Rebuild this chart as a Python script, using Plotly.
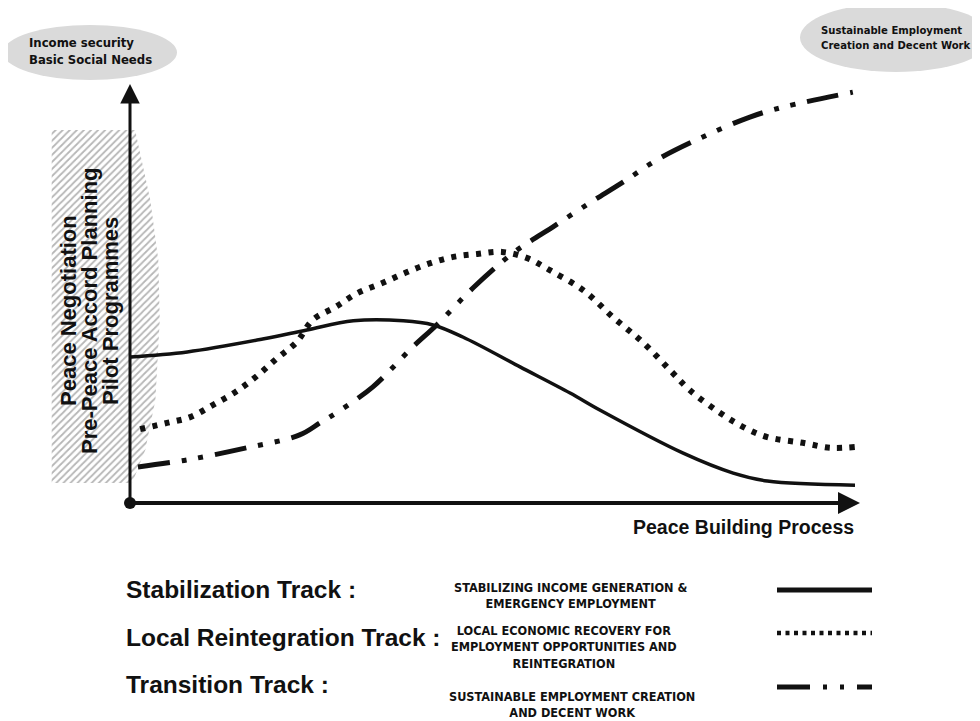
import plotly.graph_objects as go

# the page body keeps its default 8px margin, so the figure is sized to fill the rest
OFF = 8
W, H = 980 - OFF, 721 - OFF

# progress along the peace building process (0-100) vs. relative intensity (0-100)
stab_x = [0, 7.9, 18.3, 24.4, 30.8, 37.7, 41.8, 45.9, 53.8, 60.7, 64.8, 76.3, 83.2, 87.9, 100]
stab_y = [35.2, 36.4, 39.5, 41.7, 43.9, 43.9, 42.9, 40.0, 32.8, 26.5, 22.4, 12.0, 7.2, 5.3, 4.3]

local_x = [1.4, 5.1, 8.3, 11.4, 14.5, 17.5, 20.3, 23.0, 25.2, 28.3, 31.4, 34.8, 37.9, 41.1,
           44.6, 47.9, 51.3, 54.8, 57.9, 62.5, 66.6, 70.8, 74.5, 77.2, 81.4, 84.6, 87.9,
           92.8, 96.6, 100]
local_y = [17.8, 19.3, 20.7, 23.6, 26.7, 30.6, 34.9, 38.8, 44.1, 47.2, 50.6, 53.0, 55.4, 57.6,
           59.3, 60.0, 60.5, 59.0, 56.1, 51.3, 44.8, 38.6, 32.0, 27.2, 21.7, 18.3, 15.9,
           14.5, 13.3, 13.5]

trans_x = [1.1, 7.9, 16.1, 23.4, 26.2, 28.6, 33.5, 39.0, 42.3, 47.3, 52.8, 56.3, 58.3, 63.4,
           68.0, 72.7, 79.0, 85.5, 90.1, 99.7]
trans_y = [8.7, 10.4, 13.3, 16.4, 19.3, 21.9, 28.0, 37.6, 42.9, 51.8, 60.2, 64.3, 66.5, 72.3,
           77.3, 82.7, 88.2, 93.0, 95.4, 99.0]

track_names = ["Stabilization Track :", "Local Reintegration Track :", "Transition Track :"]
track_desc = [
    "STABILIZING INCOME GENERATION &<br>EMERGENCY EMPLOYMENT",
    "LOCAL ECONOMIC RECOVERY FOR<br>EMPLOYMENT OPPORTUNITIES AND<br>REINTEGRATION",
    "SUSTAINABLE EMPLOYMENT CREATION<br>AND DECENT WORK",
]
corner_left = "Income security<br>Basic Social Needs"
corner_right = "Sustainable Employment<br>Creation and Decent Work"
side_lines = ["Peace Negotiation", "Pre-Peace Accord Planning", "Pilot Programmes"]
x_label = "Peace Building Process"

ARIAL = "Liberation Sans, Arial, sans-serif"
NARROW = "Liberation Sans Narrow, Arial Narrow, DejaVu Sans Condensed, sans-serif"
INK = "#111111"
DASHDOT = "32px,12px,5px,12px,5px,12px"
DOTS = "5px,7.5px"


def px(x):
    return (x - OFF) / W


def py(y):
    return 1 - (y - OFF) / H


fig = go.Figure()

# hatched "pre-accord" band along the vertical axis
fig.add_trace(go.Scatter(
    x=[-10.8, 0.7, 2.8, 3.9, 4.1, 3.5, 2.1, 0.3, -10.8],
    y=[89.9, 89.9, 73.0, 58.6, 44.1, 24.8, 12.8, 4.8, 4.8],
    fill="toself", mode="lines", line=dict(width=0),
    fillpattern=dict(shape="/", fgcolor="#6e6e6e", bgcolor="white", size=5, solidity=0.35),
    hoverinfo="skip", showlegend=False,
))

fig.add_trace(go.Scatter(x=stab_x, y=stab_y, mode="lines",
                         line=dict(color=INK, width=3.5, shape="spline"),
                         name=track_names[0], showlegend=False))
fig.add_trace(go.Scatter(x=local_x, y=local_y, mode="lines",
                         line=dict(color=INK, width=6, shape="spline", dash=DOTS),
                         name=track_names[1], showlegend=False))
fig.add_trace(go.Scatter(x=trans_x, y=trans_y, mode="lines",
                         line=dict(color=INK, width=5, shape="spline", dash=DASHDOT),
                         name=track_names[2], showlegend=False))

shapes = [
    # grey bubbles in the corners
    dict(type="circle", xref="paper", yref="paper", x0=px(3), x1=px(177), y0=py(80), y1=py(25),
         fillcolor="#dadada", line=dict(width=0), layer="below"),
    dict(type="circle", xref="paper", yref="paper", x0=px(800), x1=px(992), y0=py(72), y1=py(3),
         fillcolor="#dadada", line=dict(width=0), layer="below"),
    # origin dot
    dict(type="circle", xref="paper", yref="paper", x0=px(124), x1=px(136), y0=py(509), y1=py(497),
         fillcolor=INK, line=dict(width=0)),
    # legend keys
    dict(type="line", xref="paper", yref="paper", x0=px(777), x1=px(872), y0=py(590), y1=py(590),
         line=dict(color=INK, width=5)),
    dict(type="line", xref="paper", yref="paper", x0=px(777), x1=px(872), y0=py(633), y1=py(633),
         line=dict(color=INK, width=4.5, dash="4px,4.5px")),
    dict(type="line", xref="paper", yref="paper", x0=px(777), x1=px(872), y0=py(687), y1=py(687),
         line=dict(color=INK, width=5, dash="33px,13px,4px,13px,4px,13px")),
]

annotations = [
    # axes drawn as arrows
    dict(x=px(130), y=py(84), xref="paper", yref="paper", text="", showarrow=True,
         ax=0, ay=419, arrowhead=2, arrowsize=1.3, arrowwidth=3, arrowcolor=INK, standoff=0),
    dict(x=px(860), y=py(503), xref="paper", yref="paper", text="", showarrow=True,
         ax=-730, ay=0, arrowhead=2, arrowsize=1.1, arrowwidth=4, arrowcolor=INK, standoff=0),
    dict(x=px(27), y=py(51), xref="paper", yref="paper", text=corner_left, showarrow=False,
         xanchor="left", yanchor="middle", align="left",
         font=dict(family=NARROW, size=13, color=INK, weight="bold")),
    dict(x=px(819), y=py(38), xref="paper", yref="paper", text=corner_right, showarrow=False,
         xanchor="left", yanchor="middle", align="left",
         font=dict(family=NARROW, size=11.2, color=INK, weight="bold")),
    dict(x=px(856), y=py(527), xref="paper", yref="paper", text=x_label, showarrow=False,
         xanchor="right", yanchor="middle",
         font=dict(family=ARIAL, size=19.5, color=INK, weight="bold")),
]

for line, lx in zip(side_lines, [68, 89, 110]):
    annotations.append(dict(x=px(lx), y=py(311), xref="paper", yref="paper", text=line,
                            showarrow=False, textangle=-90, xanchor="center", yanchor="middle",
                            font=dict(family=ARIAL, size=22, color=INK, weight="bold")))

label_y = [589, 637, 684]
desc_y = [595, 647, 704]
desc_x = [570, 564, 572]
for name, desc, ly, dy, dx in zip(track_names, track_desc, label_y, desc_y, desc_x):
    annotations.append(dict(x=px(124), y=py(ly), xref="paper", yref="paper", text=name,
                            showarrow=False, xanchor="left", yanchor="middle",
                            font=dict(family=ARIAL, size=24.5, color=INK, weight="bold")))
    annotations.append(dict(x=px(dx), y=py(dy), xref="paper", yref="paper", text=desc,
                            showarrow=False, xanchor="center", yanchor="middle", align="center",
                            font=dict(family=NARROW, size=12.6, color=INK, weight="bold")))

fig.update_layout(
    width=W, height=H,
    margin=dict(l=0, r=0, t=0, b=0),
    paper_bgcolor="white", plot_bgcolor="white",
    xaxis=dict(range=[(OFF - 130) / 7.25, (980 - 130) / 7.25], visible=False, fixedrange=True),
    yaxis=dict(range=[(503 - 721) / 4.15, (503 - OFF) / 4.15], visible=False, fixedrange=True),
    shapes=shapes,
    annotations=annotations,
    showlegend=False,
)

fig.write_html("out.html")
